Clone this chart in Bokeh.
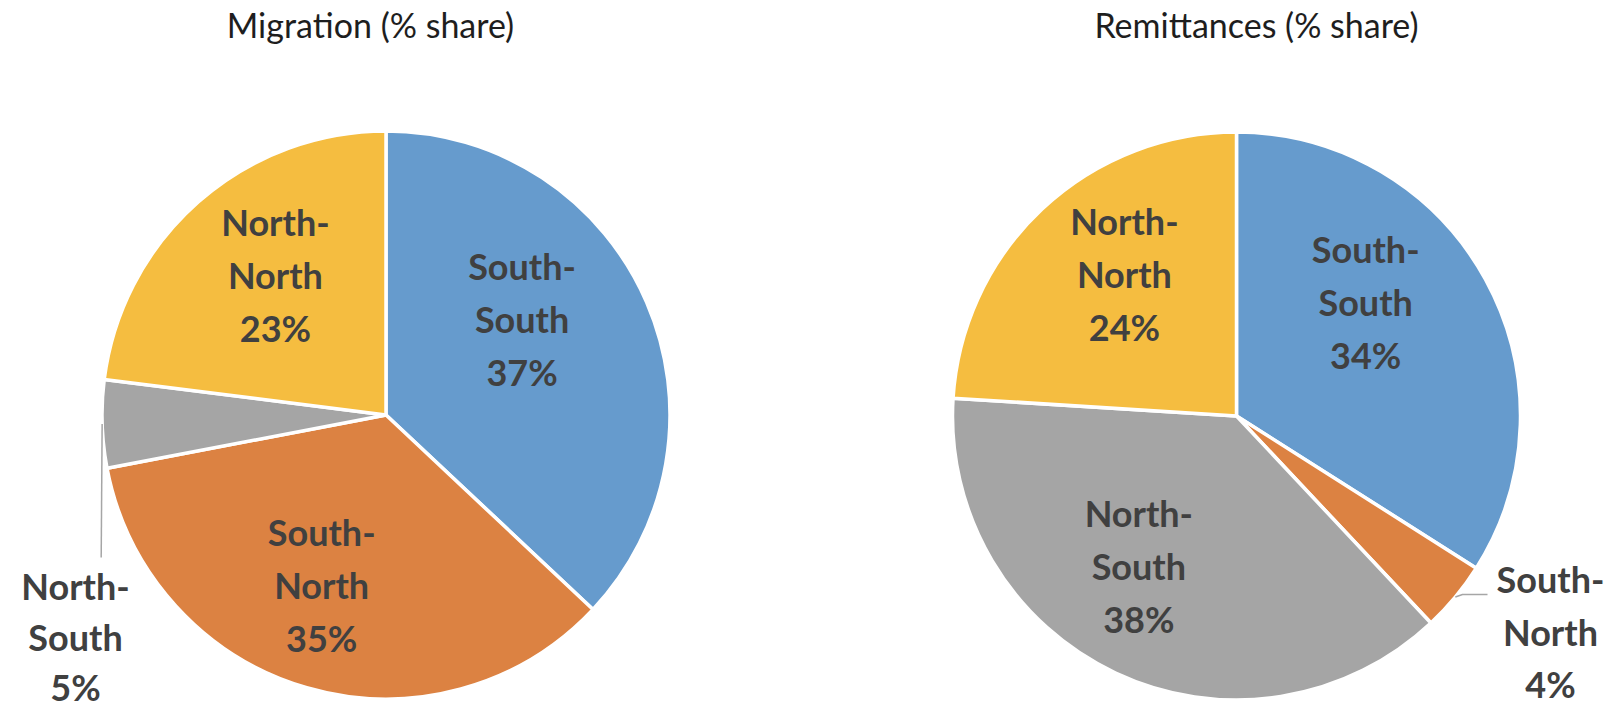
import numpy as np
from bokeh.plotting import figure
from bokeh.models import Range1d, ColumnDataSource
from bokeh.core.properties import value
from bokeh.embed import file_html
from bokeh.resources import INLINE

# ---- data ----
categories = ["South-South", "South-North", "North-South", "North-North"]
migration_share = [37, 35, 5, 23]
remittance_share = [34, 4, 38, 24]
titles = ["Migration (% share)", "Remittances (% share)"]
colors = ["#669BCD", "#DC8242", "#A5A5A5", "#F5BD40"]

# ---- layout (reference pixel coords -> data coords) ----
W, H = 1612, 708
TEXT_DY = 16  # empirical correction for SVG text baseline placement
def X(x):
    return x
def Y(y):
    return H - y
def TY(y):
    return H - (y - TEXT_DY)

p = figure(width=W, height=H, x_range=Range1d(0, W), y_range=Range1d(0, H),
           output_backend="svg", toolbar_location=None,
           x_axis_type=None, y_axis_type=None, min_border=0,
           outline_line_color=None, background_fill_color="white",
           border_fill_color="white")

LABEL_FONT = value("Lato")
LABEL_COLOR = "#404040"
LABEL_SIZE = "36px"
LINE_STEP = 53
CAP_HALF = 13

pies = [
    dict(values=migration_share, title=titles[0], cx=385.5, cy=414.5, r=284,
         title_x=370, title_y=40,
         nudge=[-10.9, 4.2, 0.0, 2.5], rfrac=[0.58, 0.65, 0.0, 0.62],
         outside=2, out_label_x=75, out_baselines=[601, 652, 702],
         leader_pts=[(100.7, 557)]),
    dict(values=remittance_share, title=titles[1], cx=1236, cy=415.5, r=284,
         title_x=1256, title_y=40,
         nudge=[-11.9, 0.0, 7.3, 4.4], rfrac=[0.60, 0.0, 0.64, 0.63],
         outside=1, out_label_x=1550, out_baselines=[594, 647, 699],
         leader_pts=[(1462, 594), (1487, 594)]),
]

def split_label(cat):
    a, b = cat.split("-")
    return [a + "-", b]

for pie in pies:
    vals = np.array(pie["values"], dtype=float)
    frac = vals / vals.sum()
    cum = np.concatenate([[0.0], np.cumsum(frac)])
    start = np.pi / 2 - 2 * np.pi * cum[:-1]
    end = np.pi / 2 - 2 * np.pi * cum[1:]
    src = ColumnDataSource(dict(start=start, end=end, color=colors,
                                cat=categories, val=list(pie["values"])))
    p.wedge(x=X(pie["cx"]), y=Y(pie["cy"]), radius=pie["r"],
            start_angle="start", end_angle="end", direction="clock",
            fill_color="color", line_color="white", line_width=3.5, source=src)

    # title
    p.text(x=[X(pie["title_x"])], y=[TY(pie["title_y"])], text=[pie["title"]],
           text_font=LABEL_FONT, text_font_size="34px", text_color="#1E1E1E",
           text_align="center", text_baseline="alphabetic")

    tx, ty, tt = [], [], []
    mids = (cum[:-1] + cum[1:]) / 2 * 360.0
    for i, cat in enumerate(categories):
        lines = split_label(cat) + [f"{pie['values'][i]}%"]
        if i == pie["outside"]:
            for ln, b in zip(lines, pie["out_baselines"]):
                tx.append(X(pie["out_label_x"]))
                ty.append(TY(b))
                tt.append(ln)
            # leader line from slice edge midpoint
            th = np.deg2rad(mids[i])
            sx = pie["cx"] + pie["r"] * np.sin(th)
            sy = pie["cy"] - pie["r"] * np.cos(th)
            pts = [(sx, sy)] + pie["leader_pts"]
            p.line(x=[X(a) for a, b in pts], y=[Y(b) for a, b in pts],
                   line_color="#A6A6A6", line_width=1.5)
        else:
            th = np.deg2rad(mids[i] + pie["nudge"][i])
            d = pie["rfrac"][i] * pie["r"]
            lx = pie["cx"] + d * np.sin(th)
            ly = pie["cy"] - d * np.cos(th)
            for k, ln in enumerate(lines):
                tx.append(X(lx))
                ty.append(TY(ly + (k - 1) * LINE_STEP + CAP_HALF))
                tt.append(ln)
    p.text(x=tx, y=ty, text=tt, text_font=LABEL_FONT, text_font_style="bold",
           text_font_size=LABEL_SIZE, text_color=LABEL_COLOR,
           text_align="center", text_baseline="alphabetic")

open("out.html", "w").write(file_html(p, INLINE))
